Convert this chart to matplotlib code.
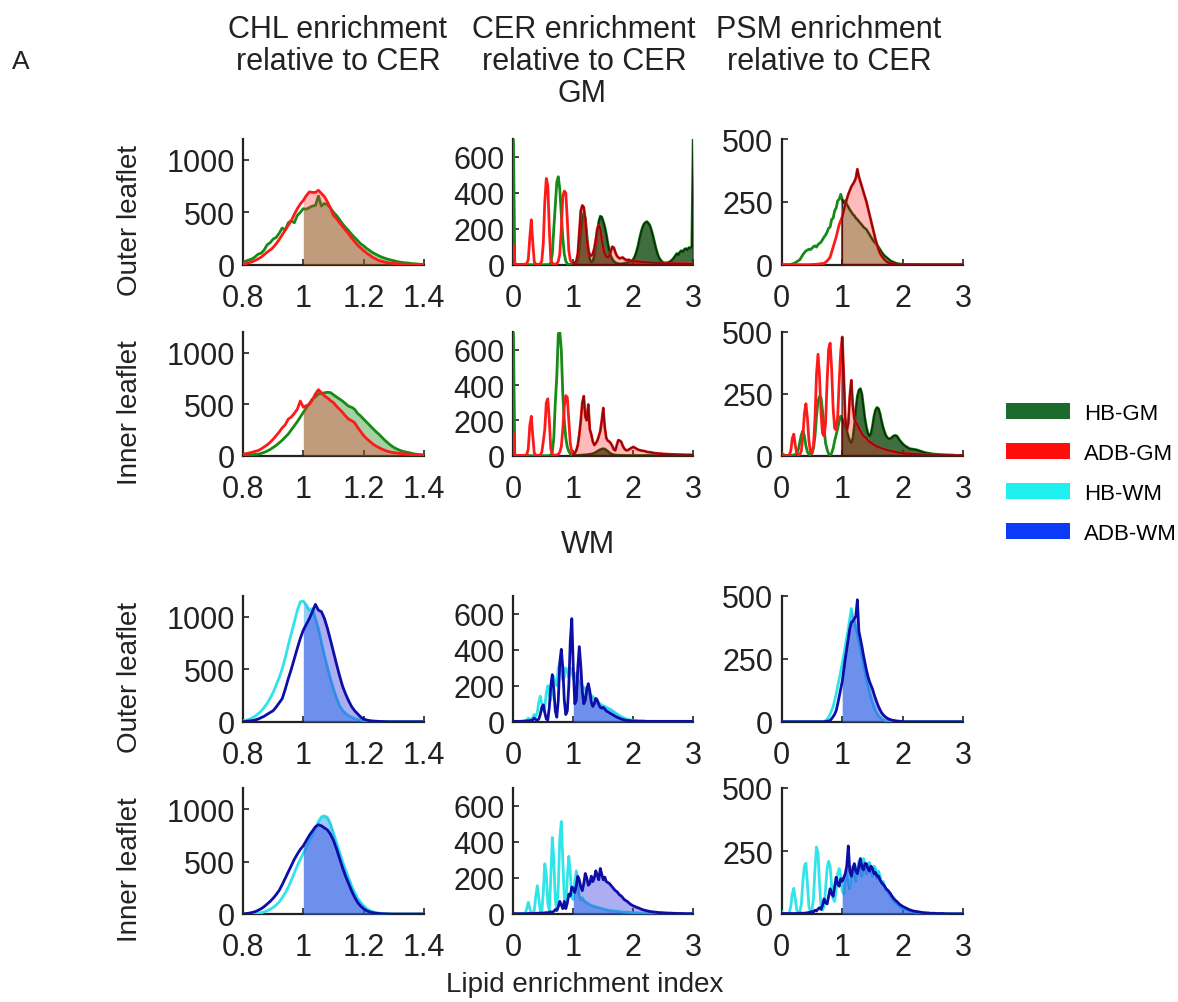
import numpy as np
import matplotlib
matplotlib.use('Agg')
import matplotlib.pyplot as plt
from matplotlib.patches import Patch

plt.rcParams['font.family'] = ['Liberation Sans', 'DejaVu Sans']

# histogram bin centres
x_chl = np.round(np.arange(0.80, 1.405, 0.01), 3)    # 61 bins
x_wide = np.round(np.arange(0.0, 3.0125, 0.025), 3)  # 121 bins

# ---------------- GM : CHL ----------------
chl_gm_out_hb = [20, 35, 45, 55, 75, 100, 110, 140, 190, 210,
                 245, 260, 300, 350, 330, 400, 420, 400, 470, 500,
                 535, 530, 545, 560, 565, 655, 560, 585, 575, 540,
                 500, 470, 430, 390, 355, 325, 290, 260, 230, 200,
                 180, 155, 135, 115, 100, 85, 72, 62, 52, 45,
                 38, 30, 25, 20, 17, 15, 10, 8, 6, 4,
                 3]
chl_gm_out_adb = [5, 10, 18, 28, 40, 55, 72, 95, 120, 140,
                  165, 200, 240, 285, 330, 375, 420, 480, 535, 580,
                  615, 660, 695, 690, 690, 710, 680, 650, 600, 540,
                  470, 440, 400, 365, 330, 295, 255, 220, 185, 160,
                  135, 110, 90, 70, 55, 40, 32, 25, 18, 15,
                  12, 9, 7, 5, 4, 3, 2, 2, 1, 1,
                  1]
chl_gm_in_hb = [2, 4, 6, 9, 12, 15, 22, 32, 45, 60,
                80, 100, 125, 150, 180, 210, 250, 290, 330, 375,
                420, 465, 505, 550, 570, 600, 605, 610, 615, 612,
                590, 570, 550, 530, 505, 480, 470, 450, 410, 385,
                355, 325, 295, 265, 235, 210, 180, 150, 125, 100,
                80, 65, 52, 42, 35, 30, 22, 16, 12, 8,
                6]
chl_gm_in_adb = [15, 20, 26, 33, 42, 50, 65, 85, 105, 130,
                 160, 195, 230, 270, 300, 355, 375, 410, 450, 530,
                 470, 485, 500, 540, 600, 640, 610, 580, 560, 535,
                 515, 480, 450, 420, 385, 355, 340, 320, 275, 235,
                 195, 165, 140, 115, 95, 80, 65, 52, 42, 35,
                 30, 26, 22, 19, 17, 15, 12, 10, 8, 7,
                 6]

# ---------------- GM : CER ----------------
cer_gm_out_hb = [760, 3, 1, 0, 0, 0, 0, 0, 0, 0,
                 0, 0, 0, 0, 0, 0, 0, 0, 0, 0,
                 0, 0, 0, 0, 2, 10, 60, 200, 330, 460,
                 490, 420, 280, 150, 60, 20, 5, 2, 1, 1,
                 2, 3, 8, 25, 80, 180, 260, 290, 260, 170,
                 80, 30, 15, 20, 50, 110, 180, 240, 270, 265,
                 240, 210, 170, 120, 80, 50, 30, 20, 12, 8,
                 6, 5, 5, 6, 8, 10, 12, 15, 18, 22,
                 30, 45, 70, 100, 140, 175, 205, 225, 235, 240,
                 232, 220, 195, 165, 130, 95, 65, 42, 28, 18,
                 12, 10, 10, 12, 15, 20, 28, 38, 50, 62,
                 55, 70, 78, 72, 85, 90, 82, 95, 92, 100,
                 760]
cer_gm_out_adb = [110, 5, 2, 2, 2, 2, 2, 2, 3, 5,
                  30, 150, 250, 120, 15, 3, 2, 2, 5, 20,
                  120, 350, 480, 440, 200, 30, 5, 3, 3, 5,
                  20, 60, 200, 380, 410, 400, 250, 80, 25, 12,
                  10, 12, 20, 60, 180, 300, 330, 320, 250, 140,
                  80, 55, 50, 60, 90, 140, 200, 220, 200, 140,
                  90, 60, 45, 40, 50, 75, 100, 95, 70, 50,
                  40, 35, 38, 40, 32, 28, 25, 28, 22, 20,
                  20, 18, 20, 16, 17, 15, 16, 14, 15, 13,
                  14, 12, 13, 11, 12, 10, 11, 10, 9, 10,
                  9, 8, 9, 8, 8, 7, 8, 7, 7, 6,
                  7, 6, 6, 5, 6, 5, 5, 5, 4, 4,
                  4]
cer_gm_in_hb = [760, 3, 1, 0, 0, 0, 0, 0, 0, 0,
                0, 0, 0, 0, 0, 0, 0, 0, 0, 0,
                0, 0, 0, 0, 1, 5, 20, 100, 300, 450,
                690, 700, 600, 350, 200, 100, 50, 25, 10, 5,
                2, 2, 2, 2, 3, 3, 4, 5, 5, 6,
                7, 8, 10, 12, 15, 20, 25, 30, 35, 38,
                40, 38, 32, 25, 18, 12, 8, 5, 4, 3,
                3, 2, 2, 2, 2, 1, 1, 1, 1, 1,
                1, 1, 1, 1, 1, 1, 1, 1, 1, 1,
                1, 1, 1, 1, 1, 1, 1, 1, 1, 1,
                1, 1, 1, 1, 1, 1, 1, 1, 1, 1,
                1, 1, 1, 1, 1, 1, 1, 1, 1, 1,
                1]
cer_gm_in_adb = [125, 5, 2, 2, 2, 2, 2, 2, 3, 5,
                 40, 170, 223, 110, 15, 3, 2, 2, 4, 20,
                 80, 150, 300, 322, 200, 40, 8, 3, 3, 5,
                 8, 20, 50, 150, 280, 340, 330, 200, 70, 20,
                 10, 15, 30, 60, 120, 200, 300, 337, 220, 200,
                 290, 150, 120, 80, 60, 70, 85, 110, 140, 200,
                 270, 160, 100, 85, 80, 70, 55, 35, 30, 60,
                 88, 85, 78, 55, 40, 32, 30, 35, 40, 45,
                 50, 45, 40, 35, 32, 30, 28, 27, 25, 22,
                 20, 20, 18, 17, 15, 14, 13, 12, 12, 11,
                 10, 10, 9, 9, 8, 8, 8, 7, 7, 7,
                 6, 6, 6, 6, 5, 5, 5, 5, 5, 4,
                 4]

# ---------------- GM : PSM ----------------
psm_gm_out_hb = [0, 0, 0, 0, 0, 0, 1, 3, 5, 8,
                 12, 16, 20, 30, 40, 48, 55, 58, 62, 60,
                 65, 72, 75, 70, 80, 85, 90, 100, 110, 118,
                 130, 145, 150, 180, 185, 215, 225, 255, 260, 280,
                 260, 245, 255, 240, 230, 218, 210, 200, 195, 185,
                 180, 172, 165, 158, 150, 145, 140, 130, 120, 110,
                 100, 92, 85, 78, 70, 60, 50, 42, 35, 30,
                 25, 20, 15, 12, 10, 7, 5, 4, 3, 2,
                 2, 1, 1, 1, 1, 1, 1, 1, 1, 1,
                 1, 0, 0, 0, 0, 0, 0, 0, 0, 0,
                 0, 0, 0, 0, 0, 0, 0, 0, 0, 0,
                 0, 0, 0, 0, 0, 0, 0, 0, 0, 0,
                 0]
psm_gm_out_adb = [0, 0, 0, 0, 0, 0, 0, 0, 0, 0,
                  0, 0, 0, 0, 0, 0, 0, 0, 0, 0,
                  1, 1, 1, 2, 2, 3, 4, 5, 5, 10,
                  15, 22, 30, 50, 70, 90, 110, 135, 160, 175,
                  190, 215, 240, 260, 280, 295, 310, 320, 330, 345,
                  380, 350, 330, 310, 290, 270, 250, 225, 200, 175,
                  150, 125, 100, 80, 60, 45, 35, 27, 20, 14,
                  10, 7, 5, 4, 3, 2, 2, 1, 1, 1,
                  1, 0, 0, 0, 0, 0, 0, 0, 0, 0,
                  0, 0, 0, 0, 0, 0, 0, 0, 0, 0,
                  0, 0, 0, 0, 0, 0, 0, 0, 0, 0,
                  0, 0, 0, 0, 0, 0, 0, 0, 0, 0,
                  0]
psm_gm_in_hb = [10, 5, 2, 1, 1, 1, 1, 2, 3, 5,
                10, 25, 55, 85, 100, 80, 40, 15, 5, 5,
                10, 30, 80, 160, 220, 240, 235, 180, 110, 50,
                25, 8, 3, 10, 30, 60, 85, 110, 140, 160,
                150, 130, 115, 100, 80, 60, 52, 70, 120, 190,
                240, 265, 271, 250, 200, 150, 115, 90, 80, 90,
                120, 160, 185, 195, 190, 170, 140, 115, 95, 80,
                72, 68, 70, 75, 80, 82, 80, 72, 62, 55,
                48, 42, 38, 34, 30, 28, 27, 26, 25, 24,
                22, 20, 18, 16, 14, 12, 11, 10, 9, 8,
                7, 6, 6, 5, 5, 4, 4, 4, 3, 3,
                3, 2, 2, 2, 2, 1, 1, 1, 1, 1,
                1]
psm_gm_in_adb = [5, 2, 0, 0, 0, 2, 20, 70, 87, 40,
                 10, 3, 5, 20, 80, 170, 210, 150, 60, 15,
                 10, 40, 150, 330, 410, 320, 170, 90, 80, 130,
                 300, 430, 455, 350, 190, 110, 105, 160, 300, 420,
                 480, 330, 150, 100, 130, 240, 305, 200, 150, 135,
                 125, 110, 100, 90, 80, 75, 70, 62, 56, 52,
                 48, 44, 40, 37, 35, 32, 30, 28, 26, 24,
                 22, 21, 20, 18, 17, 15, 14, 13, 12, 11,
                 10, 10, 9, 9, 8, 8, 7, 7, 7, 6,
                 6, 6, 5, 5, 5, 5, 4, 4, 4, 4,
                 3, 3, 3, 3, 3, 3, 2, 2, 2, 2,
                 2, 2, 2, 2, 1, 1, 1, 1, 1, 1,
                 1]

# ---------------- WM : CHL ----------------
chl_wm_out_hb = [10, 15, 22, 35, 52, 75, 100, 135, 175, 225,
                 280, 350, 420, 505, 610, 730, 840, 950, 1060, 1145,
                 1150, 1115, 1065, 1080, 990, 890, 760, 635, 520, 410,
                 315, 230, 155, 110, 80, 58, 42, 30, 22, 15,
                 10, 7, 5, 3, 2, 1, 1, 0, 0, 0,
                 0, 0, 0, 0, 0, 0, 0, 0, 0, 0,
                 0]
chl_wm_out_adb = [0, 3, 6, 10, 16, 25, 38, 52, 70, 88,
                  105, 140, 180, 220, 310, 410, 500, 600, 700, 795,
                  875, 930, 985, 1050, 1120, 1065, 1050, 985, 890, 780,
                  665, 550, 440, 340, 265, 200, 145, 105, 75, 45,
                  25, 16, 10, 7, 5, 3, 2, 1, 0, 0,
                  0, 0, 0, 0, 0, 0, 0, 0, 0, 0,
                  0]
chl_wm_in_hb = [0, 0, 1, 2, 4, 7, 12, 20, 30, 45,
                62, 85, 115, 155, 200, 255, 320, 390, 460, 520,
                580, 640, 700, 760, 820, 880, 925, 935, 920, 860,
                770, 680, 590, 500, 420, 345, 270, 205, 150, 110,
                78, 52, 34, 22, 14, 9, 6, 4, 2, 1,
                0, 0, 0, 0, 0, 0, 0, 0, 0, 0,
                0]
chl_wm_in_adb = [2, 4, 8, 14, 22, 35, 50, 70, 95, 120,
                 150, 185, 225, 280, 340, 400, 460, 520, 570, 615,
                 650, 700, 750, 790, 830, 850, 840, 820, 800, 760,
                 700, 620, 530, 440, 360, 290, 220, 160, 110, 75,
                 50, 32, 20, 13, 8, 5, 3, 2, 1, 0,
                 0, 0, 0, 0, 0, 0, 0, 0, 0, 0,
                 0]

# ---------------- WM : CER ----------------
cer_wm_out_hb = [0, 0, 0, 0, 0, 1, 2, 3, 5, 8,
                 20, 12, 15, 25, 40, 30, 50, 110, 142, 100,
                 60, 80, 160, 200, 150, 120, 180, 250, 220, 200,
                 300, 325, 280, 230, 250, 300, 280, 250, 300, 280,
                 240, 250, 270, 240, 220, 210, 200, 185, 190, 175,
                 165, 155, 145, 140, 130, 120, 115, 105, 100, 92,
                 88, 85, 80, 76, 72, 68, 62, 56, 50, 44,
                 38, 33, 28, 24, 20, 17, 14, 12, 10, 8,
                 7, 6, 5, 5, 4, 4, 3, 3, 3, 2,
                 2, 2, 2, 1, 1, 1, 1, 1, 1, 1,
                 1, 1, 1, 1, 1, 1, 1, 1, 1, 1,
                 1, 1, 1, 1, 1, 1, 1, 1, 1, 1,
                 1]
cer_wm_out_adb = [2, 2, 2, 2, 2, 2, 3, 3, 4, 5,
                  5, 6, 8, 10, 20, 12, 8, 15, 40, 80,
                  94, 50, 15, 10, 80, 200, 262, 180, 60, 25,
                  120, 330, 403, 300, 120, 40, 60, 200, 450, 574,
                  300, 100, 120, 300, 418, 310, 170, 100, 120, 180,
                  212, 170, 110, 85, 100, 130, 120, 95, 80, 75,
                  80, 70, 60, 55, 50, 45, 40, 35, 30, 25,
                  22, 18, 15, 12, 10, 8, 7, 6, 5, 5,
                  4, 4, 4, 3, 3, 3, 3, 3, 2, 2,
                  2, 2, 2, 2, 2, 2, 2, 2, 2, 2,
                  2, 2, 2, 2, 2, 2, 2, 2, 2, 2,
                  2, 2, 2, 2, 2, 2, 2, 2, 2, 2,
                  2]
cer_wm_in_hb = [0, 0, 0, 0, 0, 0, 1, 2, 5, 30,
                65, 30, 5, 3, 20, 100, 157, 90, 15, 10,
                120, 279, 220, 60, 15, 200, 425, 300, 80, 20,
                150, 420, 514, 300, 80, 40, 200, 320, 230, 90,
                80, 180, 240, 170, 100, 80, 90, 75, 70, 62,
                58, 52, 48, 45, 42, 40, 38, 35, 33, 30,
                28, 26, 24, 22, 20, 19, 18, 17, 16, 15,
                14, 13, 12, 11, 10, 10, 9, 9, 8, 8,
                7, 7, 6, 6, 6, 5, 5, 5, 4, 4,
                4, 4, 3, 3, 3, 3, 3, 2, 2, 2,
                2, 2, 2, 2, 2, 1, 1, 1, 1, 1,
                1, 1, 1, 1, 1, 1, 1, 1, 1, 1,
                1]
cer_wm_in_adb = [2, 2, 2, 2, 2, 2, 2, 2, 2, 2,
                 3, 3, 3, 3, 3, 4, 4, 4, 5, 5,
                 5, 6, 8, 6, 10, 12, 10, 15, 25, 20,
                 40, 70, 50, 30, 70, 30, 60, 110, 100, 150,
                 140, 120, 160, 209, 190, 150, 130, 170, 225, 200,
                 160, 170, 210, 180, 200, 240, 215, 190, 253, 220,
                 190, 205, 180, 175, 170, 160, 150, 140, 130, 125,
                 115, 105, 100, 90, 80, 75, 70, 62, 55, 50,
                 45, 42, 38, 35, 32, 28, 25, 22, 20, 18,
                 16, 14, 13, 12, 11, 10, 9, 8, 8, 7,
                 7, 6, 6, 5, 5, 5, 4, 4, 4, 3,
                 3, 3, 3, 3, 2, 2, 2, 2, 2, 2,
                 2]

# ---------------- WM : PSM ----------------
psm_wm_out_hb = [0, 0, 0, 0, 0, 0, 0, 0, 0, 0,
                 0, 0, 0, 0, 0, 0, 0, 0, 0, 0,
                 0, 0, 0, 0, 0, 0, 0, 0, 1, 4,
                 10, 18, 30, 45, 60, 85, 110, 140, 170, 200,
                 230, 265, 300, 335, 370, 410, 450, 420, 400, 375,
                 350, 320, 290, 260, 230, 200, 170, 145, 120, 97,
                 77, 60, 45, 33, 24, 17, 12, 8, 5, 4,
                 3, 2, 1, 0, 0, 0, 0, 0, 0, 0,
                 0, 0, 0, 0, 0, 0, 0, 0, 0, 0,
                 0, 0, 0, 0, 0, 0, 0, 0, 0, 0,
                 0, 0, 0, 0, 0, 0, 0, 0, 0, 0,
                 0, 0, 0, 0, 0, 0, 0, 0, 0, 0,
                 0]
psm_wm_out_adb = [0, 0, 0, 0, 0, 0, 0, 0, 0, 0,
                  0, 0, 0, 0, 0, 0, 0, 0, 0, 0,
                  0, 0, 0, 0, 0, 0, 0, 0, 0, 1,
                  2, 3, 5, 12, 20, 30, 44, 70, 100, 130,
                  160, 205, 250, 290, 330, 370, 395, 400, 410, 420,
                  485, 360, 330, 300, 265, 235, 205, 180, 160, 145,
                  130, 110, 92, 75, 60, 47, 36, 28, 22, 17,
                  13, 10, 8, 6, 5, 4, 3, 2, 2, 1,
                  1, 0, 0, 0, 0, 0, 0, 0, 0, 0,
                  0, 0, 0, 0, 0, 0, 0, 0, 0, 0,
                  0, 0, 0, 0, 0, 0, 0, 0, 0, 0,
                  0, 0, 0, 0, 0, 0, 0, 0, 0, 0,
                  0]
psm_wm_in_hb = [10, 2, 0, 0, 1, 5, 30, 80, 102, 60,
                15, 5, 8, 40, 130, 190, 202, 120, 30, 10,
                15, 60, 180, 266, 240, 120, 30, 15, 30, 100,
                180, 209, 190, 110, 60, 50, 100, 160, 180, 150,
                90, 80, 140, 170, 130, 100, 150, 190, 160, 130,
                180, 210, 175, 150, 220, 200, 160, 190, 205, 170,
                150, 190, 180, 140, 170, 150, 120, 130, 110, 95,
                90, 80, 70, 60, 52, 45, 40, 35, 30, 25,
                22, 20, 18, 16, 14, 12, 10, 9, 8, 7,
                6, 5, 5, 4, 4, 3, 3, 3, 2, 2,
                2, 2, 1, 1, 1, 1, 1, 1, 1, 1,
                1, 0, 0, 0, 0, 0, 0, 0, 0, 0,
                0]
psm_wm_in_adb = [2, 2, 2, 2, 2, 2, 2, 2, 2, 2,
                 2, 3, 3, 3, 3, 3, 4, 5, 6, 8,
                 10, 8, 15, 12, 20, 25, 18, 35, 60, 45,
                 40, 70, 100, 80, 70, 110, 146, 120, 110, 140,
                 130, 145, 160, 190, 270, 170, 150, 180, 200, 170,
                 160, 190, 220, 185, 175, 200, 200, 180, 170, 190,
                 180, 160, 165, 150, 150, 135, 125, 118, 110, 100,
                 95, 88, 80, 70, 62, 55, 50, 44, 38, 34,
                 30, 27, 24, 21, 18, 16, 14, 12, 11, 10,
                 9, 8, 7, 6, 5, 5, 4, 4, 3, 3,
                 3, 3, 2, 2, 2, 2, 2, 2, 1, 1,
                 1, 1, 1, 1, 1, 1, 1, 1, 1, 1,
                 1]

col_titles = ['CHL enrichment\nrelative to CER',
              'CER enrichment\nrelative to CER',
              'PSM enrichment\nrelative to CER']
row_labels = ['Outer leaflet', 'Inner leaflet', 'Outer leaflet', 'Inner leaflet']
legend_labels = ['HB-GM', 'ADB-GM', 'HB-WM', 'ADB-WM']
legend_colors = ['#1c6b2c', '#ff0d0d', '#1ef0f0', '#0a3cf5']

col_xlim = [(0.8, 1.4), (0, 3), (0, 3)]
col_xticks = [[0.8, 1.0, 1.2, 1.4], [0, 1, 2, 3], [0, 1, 2, 3]]
col_xticklabels = [['0.8', '1', '1.2', '1.4'], ['0', '1', '2', '3'], ['0', '1', '2', '3']]
col_ylim = [1200, 700, 500]
col_yticks = [[0, 500, 1000], [0, 200, 400, 600], [0, 250, 500]]

# row -> list of (hb, adb) per column
grid = [
    [(chl_gm_out_hb, chl_gm_out_adb), (cer_gm_out_hb, cer_gm_out_adb), (psm_gm_out_hb, psm_gm_out_adb)],
    [(chl_gm_in_hb, chl_gm_in_adb), (cer_gm_in_hb, cer_gm_in_adb), (psm_gm_in_hb, psm_gm_in_adb)],
    [(chl_wm_out_hb, chl_wm_out_adb), (cer_wm_out_hb, cer_wm_out_adb), (psm_wm_out_hb, psm_wm_out_adb)],
    [(chl_wm_in_hb, chl_wm_in_adb), (cer_wm_in_hb, cer_wm_in_adb), (psm_wm_in_hb, psm_wm_in_adb)],
]
# panels where the dense histogram edges make the HB-GM area look dark
dark_panels = {(0, 1), (1, 1), (1, 2)}
edged_panels = {(0, 1), (1, 1), (0, 2), (1, 2)}

gm_style = dict(hb_line='#178a17', hb_fill='#1f8f1f', hb_alpha=0.4,
                hb_dark='#0f4a0f', adb_edge='#6a0808',
                adb_line='#ff1a1a', adb_fill='#ff2020', adb_alpha=0.3)
wm_style = dict(hb_line='#30e4e8', hb_fill='#2a9ef2', hb_alpha=0.5,
                adb_line='#0d0da8', adb_fill='#3333dd', adb_alpha=0.4)

W, H = 1178, 1003
col_px = [(243, 181), (513.3, 180), (781.7, 181.6)]      # left, width
row_px = [(140, 265.7), (333, 456.7), (597, 722.7), (789, 915)]  # top, bottom
ink = '#222222'

fig = plt.figure(figsize=(W / 100, H / 100), dpi=100)


def draw_panel(ax, x, hb, adb, st, dark, edged):
    x = np.asarray(x)
    hb = np.asarray(hb, float)
    adb = np.asarray(adb, float)
    right = x >= 0.999
    ax.plot(x, hb, color=st['hb_line'], lw=2, zorder=3)
    if dark:
        ax.fill_between(x, 0, hb, where=right, color=st['hb_dark'],
                        alpha=0.8, lw=0, zorder=4)
    else:
        ax.fill_between(x, 0, hb, where=right, color=st['hb_fill'],
                        alpha=st['hb_alpha'], lw=0, zorder=4)
    if edged:
        ax.fill_between(x, 0, hb, where=right, facecolor='none',
                        edgecolor='#0a2a0a', lw=1.0, zorder=4)
    ax.fill_between(x, 0, adb, where=right, color=st['adb_fill'],
                    alpha=st['adb_alpha'], lw=0, zorder=5)
    ax.plot(x, adb, color=st['adb_line'], lw=2, zorder=6)
    if edged:
        ax.fill_between(x, 0, adb, where=right, facecolor='none',
                        edgecolor=st['adb_edge'], alpha=0.8, lw=1.3, zorder=7)


for r in range(4):
    top, bot = row_px[r]
    st = gm_style if r < 2 else wm_style
    for c in range(3):
        left, wid = col_px[c]
        ax = fig.add_axes([left / W, 1 - bot / H, wid / W, (bot - top) / H])
        x = x_chl if c == 0 else x_wide
        hb, adb = grid[r][c]
        assert len(hb) == len(x) and len(adb) == len(x)
        draw_panel(ax, x, hb, adb, st, (r, c) in dark_panels, (r, c) in edged_panels)
        ax.set_xlim(*col_xlim[c])
        ax.set_ylim(0, col_ylim[c])
        ax.set_xticks(col_xticks[c])
        ax.set_xticklabels(col_xticklabels[c])
        ax.set_yticks(col_yticks[c])
        for s in ['top', 'right']:
            ax.spines[s].set_visible(False)
        for s in ['left', 'bottom']:
            ax.spines[s].set_linewidth(1.6)
            ax.spines[s].set_color(ink)
        ax.tick_params(direction='in', length=4, width=1.2, labelsize=22,
                       colors=ink)
        ax.tick_params(axis='y', pad=6)
        ax.tick_params(axis='x', pad=13)
    fig.text(130 / W, 1 - ((top + bot) / 2 + 18) / H, row_labels[r],
             rotation=90, ha='center', va='center', fontsize=20, color=ink)

for c, cx in enumerate([338, 584, 829]):
    fig.text(cx / W, 1 - 15 / H, col_titles[c], ha='center', va='top',
             fontsize=22, linespacing=1.1, color=ink)

fig.text(582 / W, 1 - 94 / H, 'GM', ha='center', va='center', fontsize=22, color=ink)
fig.text(588 / W, 1 - 545 / H, 'WM', ha='center', va='center', fontsize=22, color=ink)
fig.text(21 / W, 1 - 62 / H, 'A', ha='center', va='center', fontsize=19, color=ink)
fig.text(585 / W, 1 - 985 / H, 'Lipid enrichment index', ha='center', va='center',
         fontsize=20, color=ink)

handles = [Patch(facecolor=col, edgecolor='none') for col in legend_colors]
fig.legend(handles, legend_labels, loc='upper left',
           bbox_to_anchor=(1006 / W, 1 - 404 / H), frameon=False,
           fontsize=16, handlelength=2.9, handleheight=0.75,
           handletextpad=0.6, labelspacing=0.85, borderpad=0, borderaxespad=0)

fig.savefig('out.png', dpi=100)
